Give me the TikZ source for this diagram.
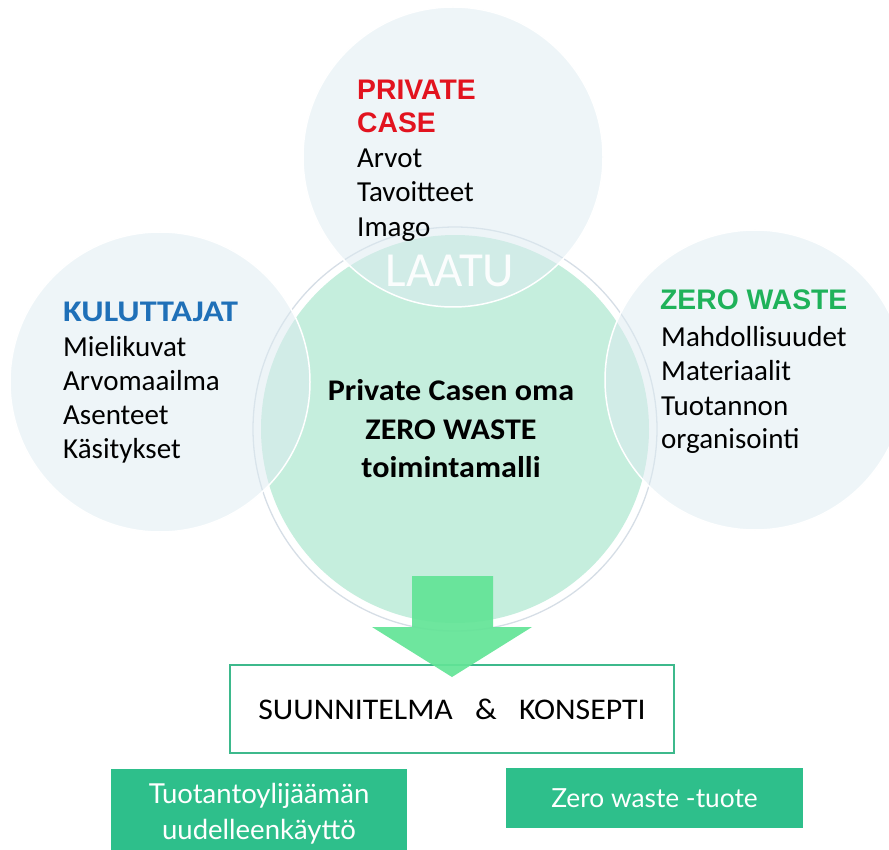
\documentclass[tikz,border=0pt]{standalone}
\usepackage{fontspec}
\usepackage{graphicx}
\setmainfont{Carlito}
\newfontfamily\arialfont{Liberation Sans}
\newfontfamily\latofont{Lato}

\definecolor{mint}{HTML}{C5EEDD}
\definecolor{haze}{HTML}{DDEBF1}
\definecolor{ringgray}{HTML}{D6DEE6}
\definecolor{arrowgreen}{HTML}{62E496}
\definecolor{boxgreen}{HTML}{2EBF8B}
\definecolor{framegreen}{HTML}{3DB98C}
\definecolor{casered}{HTML}{E2131F}
\definecolor{userblue}{HTML}{1F70B8}
\definecolor{wastegreen}{HTML}{1FB25A}

% horizontal widening of a text
\newcommand{\widen}[2]{\scalebox{#1}[1]{#2}}

\tikzset{
  sidecircle/.style={circle, inner sep=0pt, minimum size=300pt,
    fill=haze, fill opacity=0.5, draw=white, line width=1.5pt},
  bodytxt/.style={font=\fontsize{29}{29}\selectfont, anchor=base west, inner sep=0pt},
  headarial/.style={font=\arialfont\bfseries\fontsize{28.3}{28.3}\selectfont,
    anchor=base west, inner sep=0pt},
  headcalibri/.style={font=\bfseries\fontsize{30}{30}\selectfont,
    anchor=base west, inner sep=0pt},
  resultbox/.style={fill=boxgreen, inner sep=0pt, text=white, align=center},
}

\begin{document}
\begin{tikzpicture}[x=1pt,y=-1pt]
\useasboundingbox (0,0) rectangle (889,850);

% central model circle with its white ring
\node[circle, inner sep=0pt, minimum size=404pt, draw=ringgray, line width=1.3pt,
      fill=white] (ring) at (455,429) {};
\node[circle, inner sep=0pt, minimum size=388pt, fill=mint] (core) at (455,429) {};

% the three viewpoint circles
\node[sidecircle] (caseC) at (453,157) {};
\node[sidecircle] (userC) at (160,382) {};
\node[sidecircle] (wasteC) at (755,380) {};

\node[font=\fontsize{49}{49}\selectfont, text=white, text opacity=0.92,
      anchor=base, inner sep=0pt] (laatu) at (450,287) {LAATU};

% PRIVATE CASE
\node[headarial, text=casered] (case1) at (357,100) {PRIVATE};
\node[headarial, text=casered] (case2) at (357,133) {CASE};
\foreach \t [count=\i] in {Arvot,Tavoitteet,Imago}
  \node[bodytxt] (caseL\i) at (357,133+34.5*\i) {\t};

% KULUTTAJAT
\node[headcalibri, text=userblue] (user0) at (63,322) {\widen{1.14}{KULUTTAJAT}};
\foreach \t [count=\i] in {Mielikuvat,Arvomaailma,Asenteet,Käsitykset}
  \node[bodytxt] (userL\i) at (63,322+34*\i) {\t};

% ZERO WASTE
\node[headarial, text=wastegreen] (waste0) at (660,310) {ZERO WASTE};
\foreach \t/\yy [count=\i] in {Mahdollisuudet/347,Materiaalit/381,Tuotannon/415,organisointi/448}
  \node[bodytxt] (wasteL\i) at (661,\yy) {\t};

% model in the middle
\node[font=\bfseries\fontsize{30}{38.5}\selectfont, align=center, inner sep=0pt]
  (model) at (451,429)
  {\widen{1.07}{Private Casen oma}\\\widen{1.07}{ZERO WASTE}\\\widen{1.07}{toimintamalli}};

% plan box
\node[draw=framegreen, line width=2.5pt, fill=white, inner sep=0pt,
      minimum width=444pt, minimum height=88pt,
      font=\fontsize{30}{30}\selectfont] (plan) at (452,709)
  {\widen{1.06}{SUUNNITELMA\hspace{21pt}\&\hspace{21pt}KONSEPTI}};

% arrow from the model down to the plan
\fill[arrowgreen, fill opacity=0.92]
  (412,576) -- (493,576) -- (493,627) -- (532,627) -- (452,677)
  -- (372,627) -- (412,627) -- cycle;

% outcomes
\node[resultbox, minimum width=296pt, minimum height=90pt,
      font=\latofont\fontsize{27.5}{36}\selectfont] (reuse) at (259,814)
  {Tuotantoylijäämän\\uudelleenkäyttö};
\node[resultbox, minimum width=297pt, minimum height=60pt,
      font=\latofont\fontsize{26.3}{26.3}\selectfont] (product) at (654.5,798)
  {Zero waste -tuote};
\end{tikzpicture}
\end{document}
